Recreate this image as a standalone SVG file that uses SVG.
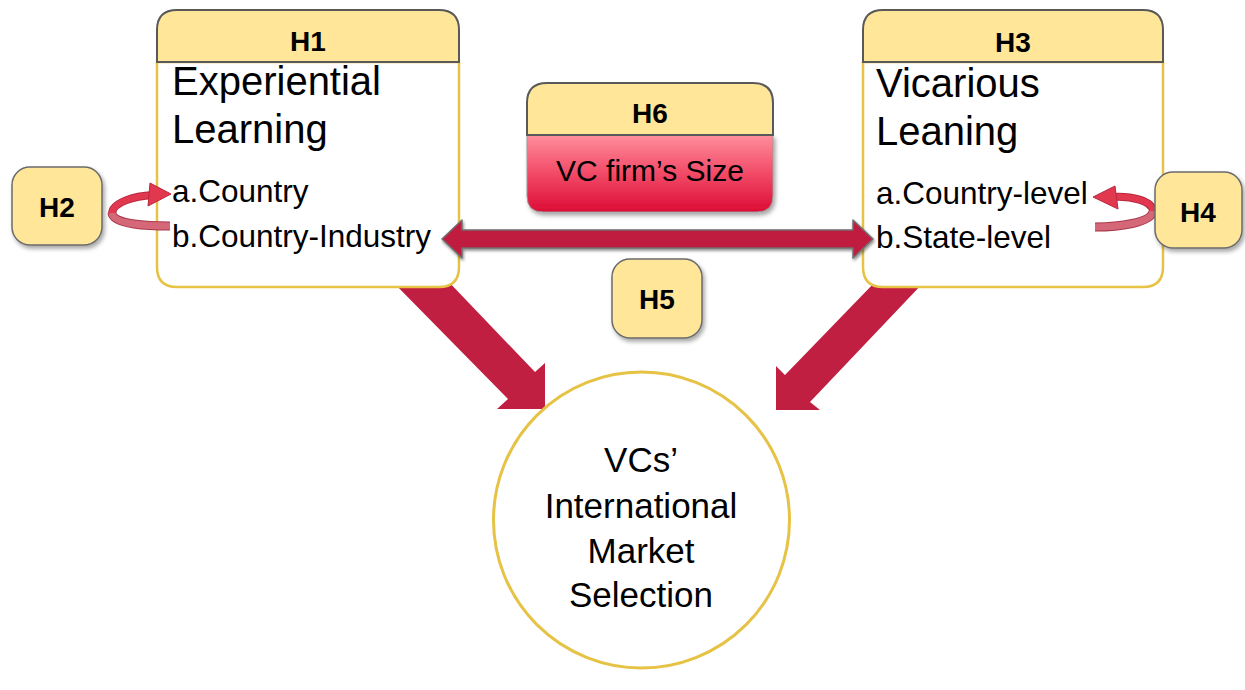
<svg xmlns="http://www.w3.org/2000/svg" width="1245" height="690" viewBox="0 0 1245 690">
<defs>
<style>
text{font-family:"Liberation Sans",Arial,sans-serif;fill:#000}
.hd{font-weight:bold;font-size:28px;text-anchor:middle}
.ttl{font-size:40px}
.itm{font-size:31.5px}
.ctr{font-size:35px;text-anchor:middle}
.hdr{fill:#FFE699;stroke:#595959;stroke-width:2}
.body{fill:#fff;stroke:#E6C245;stroke-width:2.5}
.tag{fill:#FFE699;stroke:#6b6b6b;stroke-width:1.5}
.big{fill:#C01F41}
</style>
<filter id="sh" x="-20%" y="-20%" width="150%" height="150%">
<feDropShadow dx="2" dy="3" stdDeviation="2" flood-color="#000" flood-opacity="0.35"/>
</filter>
<filter id="sh2" x="-10%" y="-40%" width="120%" height="180%">
<feDropShadow dx="1" dy="2" stdDeviation="1.5" flood-color="#000" flood-opacity="0.45"/>
</filter>
<linearGradient id="red" x1="0" y1="0" x2="0" y2="1">
<stop offset="0" stop-color="#FF8E9C"/>
<stop offset="0.5" stop-color="#F24A67"/>
<stop offset="1" stop-color="#DD0C36"/>
</linearGradient>
</defs>

<g id="connectors">
<polygon class="big" points="389,278 508,399 497,409 545,409 545,363 535,372 445,278"/>
<polygon class="big" points="876,281 785,375 776,366 776,410 820,410 810,402 924,282"/>
</g>

<g id="H1">
<path class="body" d="M157,62 H459 V267 Q459,287 439,287 H177 Q157,287 157,267 Z"/>
<path class="hdr" d="M157,62 V30 Q157,10 177,10 H439 Q459,10 459,30 V62 Z"/>
<text class="hd" x="308" y="51">H1</text>
<text class="ttl" x="172" y="95">Experiential</text>
<text class="ttl" x="172" y="143">Learning</text>
<text class="itm" x="172" y="202">a.Country</text>
<text class="itm" x="172" y="247">b.Country-Industry</text>
</g>

<g id="H3">
<path class="body" d="M863,62 H1163 V267 Q1163,287 1143,287 H883 Q863,287 863,267 Z"/>
<path class="hdr" d="M863,62 V30 Q863,10 883,10 H1143 Q1163,10 1163,30 V62 Z"/>
<text class="hd" x="1013" y="52">H3</text>
<text class="ttl" x="876" y="97">Vicarious</text>
<text class="ttl" x="876" y="145">Leaning</text>
<text class="itm" x="876" y="204">a.Country-level</text>
<text class="itm" x="876" y="248">b.State-level</text>
</g>

<g id="H6">
<path d="M527,135 H773 V196 Q773,212 757,212 H543 Q527,212 527,196 Z" fill="url(#red)" stroke="#9a9a9a" stroke-width="1" filter="url(#sh)"/>
<path class="hdr" d="M527,135 V103 Q527,83 547,83 H753 Q773,83 773,103 V135 Z"/>
<text class="hd" x="650" y="123">H6</text>
<text x="650" y="181" style="font-size:30px;text-anchor:middle">VC firm’s Size</text>
</g>

<g id="H5-arrow">
<polygon points="442,239 462,220 462,230 853,230 853,220 873,239 853,258 853,248 462,248 462,258" fill="#C01F41" stroke="#6f6f6f" stroke-width="1.5" stroke-linejoin="round" filter="url(#sh2)"/>
</g>

<g id="H2-arrow">
<path d="M112,214 C112,202 135,196 153,195" fill="none" stroke="#B8283F" stroke-width="8"/>
<path d="M112,214 C112,202 135,196 153,195" fill="none" stroke="#E2384F" stroke-width="6"/>
<polygon points="150,183 171,194 148,206" fill="#E2384F" stroke="#B8283F" stroke-width="1"/>
<path d="M170,226 C150,226 113,225 112,213" fill="none" stroke="#A9384A" stroke-width="9"/>
<path d="M170,226 C150,226 113,225 112,213" fill="none" stroke="#D56878" stroke-width="7"/>
</g>

<g id="H4-arrow">
<path d="M1153,212 C1153,200 1130,196 1113,197" fill="none" stroke="#B8283F" stroke-width="8"/>
<path d="M1153,212 C1153,200 1130,196 1113,197" fill="none" stroke="#E2384F" stroke-width="6"/>
<polygon points="1115,186 1093,197 1118,209" fill="#E2384F" stroke="#B8283F" stroke-width="1"/>
<path d="M1095,227 C1118,227 1152,223 1153,211" fill="none" stroke="#A9384A" stroke-width="9"/>
<path d="M1095,227 C1118,227 1152,223 1153,211" fill="none" stroke="#D56878" stroke-width="7"/>
</g>

<g id="H2">
<rect class="tag" x="12" y="167" width="90" height="78" rx="18" filter="url(#sh)"/>
<text class="hd" x="57" y="217">H2</text>
</g>

<g id="H4">
<rect class="tag" x="1155" y="172" width="87" height="76" rx="18" filter="url(#sh)"/>
<text class="hd" x="1198" y="222">H4</text>
</g>

<g id="H5">
<rect class="tag" x="612" y="259" width="90" height="79" rx="18" filter="url(#sh)"/>
<text class="hd" x="657" y="309">H5</text>
</g>

<g id="outcome">
<circle cx="641.5" cy="520" r="148" fill="#fff" stroke="#E6C245" stroke-width="3"/>
<text class="ctr" x="641" y="472">VCs’</text>
<text class="ctr" x="641" y="518">International</text>
<text class="ctr" x="641" y="563">Market</text>
<text class="ctr" x="641" y="607">Selection</text>
</g>
</svg>
